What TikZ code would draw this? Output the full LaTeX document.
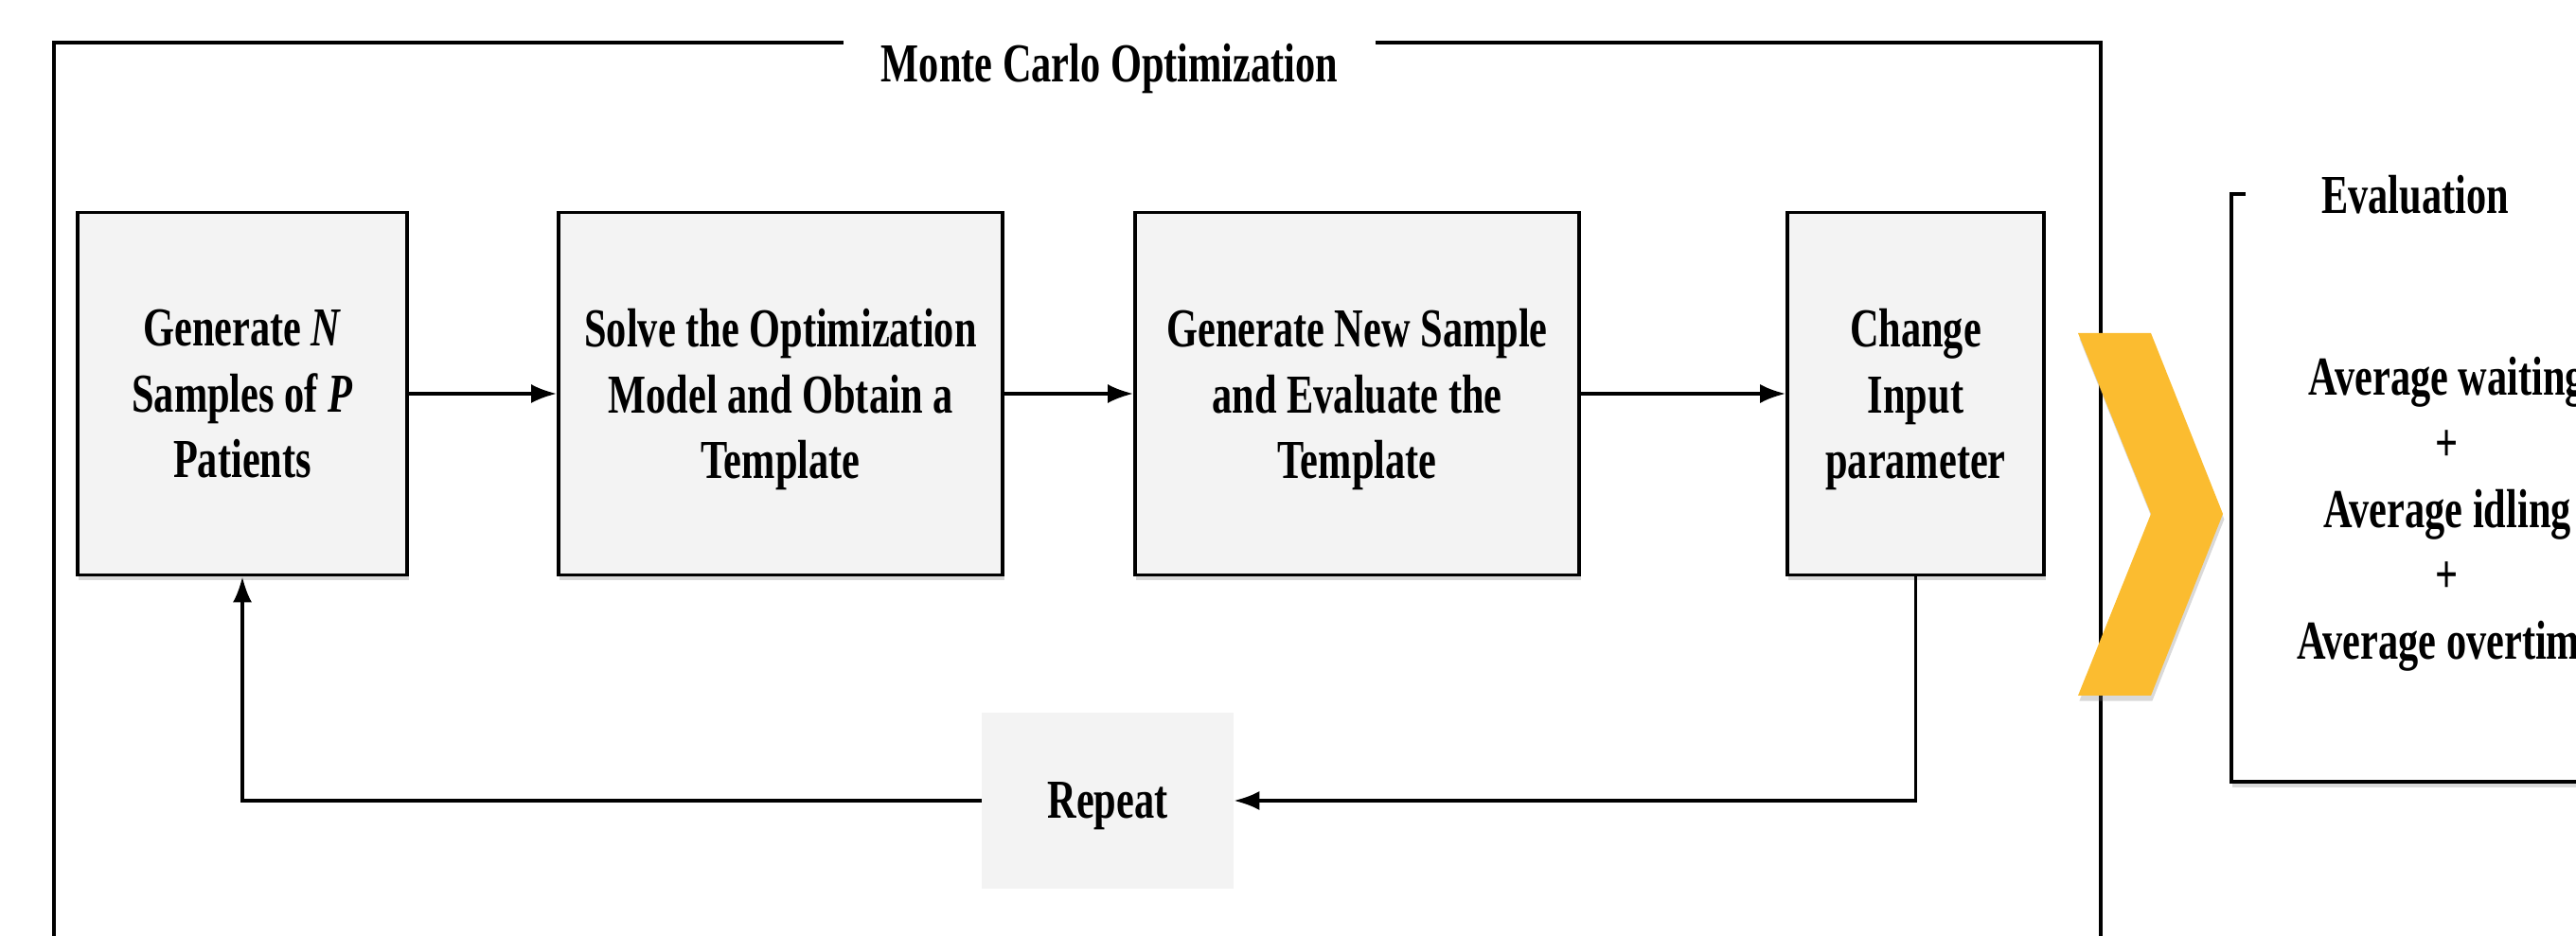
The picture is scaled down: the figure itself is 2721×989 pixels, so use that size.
\documentclass[tikz,border=0pt]{standalone}
\usepackage{fontspec}
\setmainfont[FakeStretch=0.73]{Liberation Serif}
\usepackage{xcolor}
\usepackage{tikz}
\usetikzlibrary{arrows.meta, positioning, shadows}
\definecolor{boxgray}{HTML}{F3F3F3}
\definecolor{chevyellow}{HTML}{FBBC30}

\begin{document}
\begin{tikzpicture}[x=0.01cm, y=-0.01cm,
    font=\fontsize{16.5}{19.8}\selectfont\bfseries,
    every node/.append style={text depth=0pt},
    softshadow/.style={drop shadow={opacity=0.3, shadow xshift=0.4pt, shadow yshift=-1.6pt}},
    stepbox/.style={draw, line width=1pt, fill=boxgray, align=center, minimum height=3.83cm, softshadow},
    flow/.style={-{Latex[length=0.27cm, width=0.2cm]}, line width=1pt},
    frame/.style={draw, line width=1pt, fill=white, softshadow}]
    \useasboundingbox (0,0) rectangle (2721,989);
    % Frames
    \path[frame] (57,45) rectangle (2219,1040);
    \path[frame] (2357,205) rectangle (2813,826);
    \node[fill=white, inner xsep=0.4cm] (mctitle) at (1172,66) {Monte Carlo Optimization};
    \node[fill=white, inner xsep=0.8cm] (evtitle) at (2551,205) {Evaluation};
    % Steps
    \node[stepbox, minimum width=3.48cm] (gen) at (256,416) {Generate \textit{N}\\Samples of \textit{P}\\Patients};
    \node[stepbox, minimum width=4.69cm] (solve) at (824.5,416) {Solve the Optimization\\Model and Obtain a\\Template};
    \node[stepbox, minimum width=4.69cm] (evaltpl) at (1433.5,416) {Generate New Sample\\and Evaluate the\\Template};
    \node[stepbox, minimum width=2.71cm] (change) at (2023.5,416) {Change\\Input\\parameter};
    \node[fill=boxgray, minimum width=2.65cm, minimum height=1.86cm] (repeat) at (1170,846) {Repeat};
    \draw[flow] (gen) -- (solve);
    \draw[flow] (solve) -- (evaltpl);
    \draw[flow] (evaltpl) -- (change);
    \draw[flow] (change.south) |- (repeat.east);
    \draw[flow] (repeat.west) -| (gen.south);
    % Chevron
    \fill[chevyellow, softshadow] (2195,352) -- (2272,352) -- (2348,543) -- (2272,735) -- (2195,735) -- (2272,543) -- cycle;
    \node[align=center] (evtext) at (2585,537) {Average waiting\\+\\Average idling\\+\\Average overtime};
\end{tikzpicture}
\end{document}
